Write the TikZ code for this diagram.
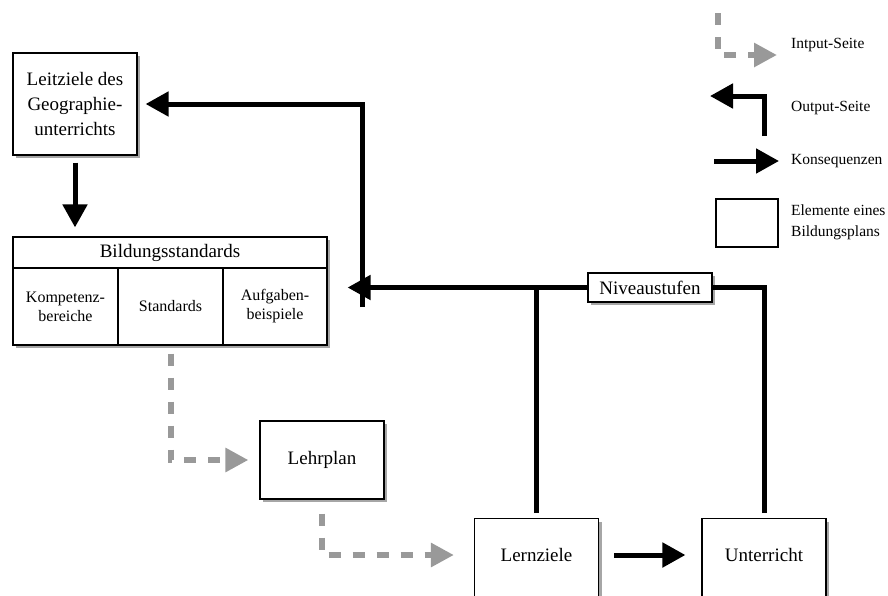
\documentclass[tikz,border=0pt]{standalone}
\usepackage{fontspec}
\setmainfont{Liberation Serif}
\usetikzlibrary{arrows.meta}
\usetikzlibrary{shadows}
\tikzstyle{elem}=[draw, line width=1.2pt, fill=white, inner sep=0pt, align=center,
  general shadow={shadow xshift=3pt, shadow yshift=-3pt, fill=black!35},
  font=\fontsize{19}{25}\selectfont]
\tikzstyle{belem}=[elem, minimum width=124pt, minimum height=78pt]
\tikzstyle{cutelem}=[belem, minimum height=100pt, anchor=north, text height=13pt, text depth=27pt]
\tikzstyle{colelem}=[elem, minimum width=105pt, minimum height=77pt, font=\fontsize{16}{19}\selectfont]
\tikzstyle{legtext}=[anchor=west, inner sep=0pt, align=left, font=\fontsize{15.5}{21}\selectfont]
\tikzstyle{thickline}=[line width=5pt]
\tikzstyle{conseq}=[thickline, -{Triangle[length=23pt,width=24pt]}]
\tikzstyle{inarr}=[line width=6pt, black!40, dash pattern=on 12pt off 12pt,
  -{Triangle[length=23pt,width=23pt]}]

\begin{document}
\begin{tikzpicture}[x=1pt, y=-1pt]
        \useasboundingbox (0,0) rectangle (888,595);
        \clip (0,0) rectangle (888,595);
        % elements
        \node[belem, minimum height=102pt] (leit) at (75,104) {Leitziele des\\Geographie-\\unterrichts};
        \node[elem, minimum width=314pt, minimum height=31pt] (bild) at (170,252.5) {Bildungsstandards};
        \node[colelem] (komp) at (65.5,306.5) {Kompetenz-\\bereiche};
        \node[colelem] (stand) at (170.5,306.5) {Standards};
        \node[colelem, minimum width=104pt] (aufg) at (275,306.5) {Aufgaben-\\beispiele};
        \node[belem] (lehr) at (322,460) {Lehrplan};
        \node[cutelem] (lern) at (536.5,518) {Lernziele};
        \node[cutelem] (unt) at (764,518) {Unterricht};
        \node[elem, minimum width=124pt, minimum height=29pt] (niveau) at (650,287.5) {Niveaustufen};
        \coordinate (fb) at (362,307);
        % connectors
        \draw[conseq, shorten <=7pt, shorten >=9pt] (leit.south) -- (leit.south |- bild.north);
        \draw[inarr, shorten <=8pt, shorten >=11pt] (stand.south) |- (lehr.west);
        \draw[inarr, shorten <=14pt, shorten >=20pt] (lehr.south) |- ([yshift=-37pt]lern.north west);
        \draw[conseq, shorten <=15pt, shorten >=16pt] ([yshift=-37pt]lern.north east) -- ([yshift=-37pt]unt.north west);
        \draw[thickline, shorten <=5pt] (lern.north) -- (lern.north |- niveau.west);
        \draw[thickline, shorten <=5pt] (unt.north) |- (niveau.east);
        \draw[conseq, shorten >=20pt] (niveau.west) -- (niveau.west -| aufg.east);
        \draw[conseq, shorten >=8pt] (fb) |- (leit.east);
        % legend
        \coordinate (inA) at (718,13);
        \coordinate (inB) at (777,55);
        \coordinate (outA) at (764,136);
        \coordinate (outB) at (710,96);
        \coordinate (konA) at (714,161);
        \coordinate (konB) at (779,161);
        \draw[inarr] (inA) |- (inB);
        \draw[conseq] (outA) |- (outB);
        \draw[conseq] (konA) -- (konB);
        \node[draw, line width=1.2pt, minimum width=62pt, minimum height=48pt] (legbox) at (747,223) {};
        \node[legtext] (legin) at (791,45) {Intput-Seite};
        \node[legtext] (legout) at (791,108) {Output-Seite};
        \node[legtext] (legkon) at (791,161) {Konsequenzen};
        \node[legtext] (legel) at (791,222) {Elemente eines\\Bildungsplans};
    \end{tikzpicture}
\end{document}
